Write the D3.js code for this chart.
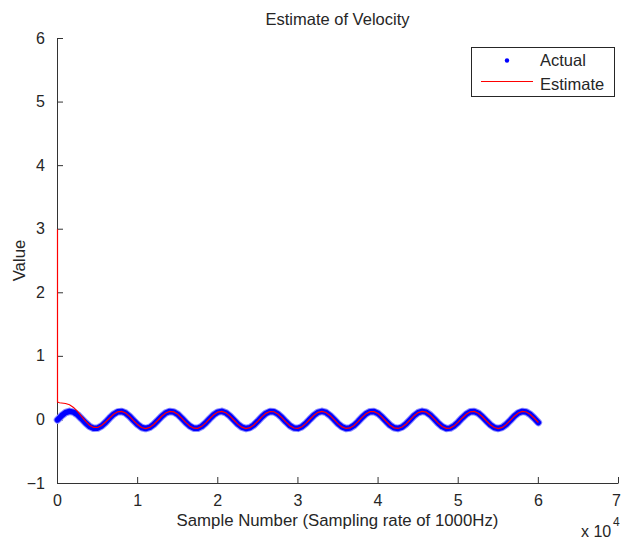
<!DOCTYPE html>
<html>
<head>
<meta charset="utf-8">
<script src="https://cdn.jsdelivr.net/npm/d3@7/dist/d3.min.js"></script>
<style>
  html, body { margin: 0; padding: 0; background: #fff; }
  svg { display: block; }
  text { font-family: "Liberation Sans", Arial, Helvetica, sans-serif; fill: #262626; }
</style>
</head>
<body>
<svg id="chart" width="621" height="540"></svg>
<script>
// Measured velocity, one value every 500 samples (sample 0 .. 60000)
const actualStep = 500;
const actualValues = [
  0, 0.065, 0.114, 0.135, 0.123, 0.081, 0.019, -0.047, -0.102, -0.132,
  -0.129, -0.095, -0.038, 0.029, 0.089, 0.127, 0.134, 0.108, 0.056, -0.010,
  -0.073, -0.119, -0.135, -0.118, -0.072, -0.009, 0.057, 0.109, 0.134, 0.126,
  0.088, 0.028, -0.039, -0.096, -0.130, -0.132, -0.101, -0.046, 0.020, 0.082,
  0.123, 0.135, 0.113, 0.064, -0.001, -0.066, -0.114, -0.135, -0.122, -0.080,
  -0.018, 0.048, 0.103, 0.132, 0.129, 0.094, 0.037, -0.030, -0.090, -0.127,
  -0.133, -0.107, -0.055, 0.011, 0.074, 0.119, 0.135, 0.118, 0.071, 0.008,
  -0.058, -0.109, -0.134, -0.126, -0.087, -0.027, 0.040, 0.097, 0.130, 0.131,
  0.101, 0.045, -0.021, -0.083, -0.124, -0.134, -0.112, -0.063, 0.002, 0.067,
  0.115, 0.135, 0.122, 0.079, 0.017, -0.050, -0.104, -0.133, -0.129, -0.093,
  -0.035, 0.031, 0.090, 0.127, 0.133, 0.106, 0.053, -0.013, -0.075, -0.120,
  -0.135, -0.117, -0.070, -0.007, 0.059, 0.110, 0.134, 0.125, 0.086, 0.026,
  -0.041
];

// Estimator start-up transient (sample numbers and values); after sample
// 6000 the estimate sits on the measured curve
const estimateStartSamples = [0, 1, 250, 500, 750, 1000, 1500, 2000, 2500, 3000, 3500, 4000, 4500, 5000, 5500, 6000];
const estimateStartValues  = [3.0, 0.28, 0.270, 0.266, 0.262, 0.258, 0.238, 0.197, 0.134, 0.057, -0.020, -0.083, -0.118, -0.119, -0.088, -0.033];

const xTicks = [0, 10000, 20000, 30000, 40000, 50000, 60000, 70000];
const xTickLabels = ["0", "1", "2", "3", "4", "5", "6", "7"];
const yTicks = [-1, 0, 1, 2, 3, 4, 5, 6];
const legendLabels = ["Actual", "Estimate"];

const actual = actualValues.map((v, i) => ({ n: i * actualStep, v }));
const estimate = estimateStartSamples.map((n, i) => ({ n, v: estimateStartValues[i] }))
  .concat(actual.filter(d => d.n > 6000));

const svg = d3.select("#chart");
const W = 621, H = 540;
svg.append("rect").attr("width", W).attr("height", H).attr("fill", "#fff");

const x = d3.scaleLinear().domain([0, 70000]).range([57, 618]);
const y = d3.scaleLinear().domain([-1, 6]).range([483, 38]);
const axisColor = "#333";
const fontSize = 16;

// x axis (ticks point inward)
const gx = svg.append("g").attr("transform", `translate(0,${y(-1)})`)
  .call(d3.axisBottom(x).tickValues(xTicks).tickSizeInner(-6).tickSizeOuter(0)
    .tickPadding(12).tickFormat((d, i) => xTickLabels[i]));
gx.select(".domain").attr("stroke", axisColor);
gx.selectAll(".tick line").attr("stroke", axisColor);
gx.selectAll(".tick text").attr("font-size", fontSize).attr("font-family", null).attr("fill", "#262626");
// last label sits at the window edge; nudge it so it stays inside
gx.selectAll(".tick text").filter((d, i) => i === xTicks.length - 1).attr("dx", -2);

// y axis
const gy = svg.append("g").attr("transform", `translate(${x(0)},0)`)
  .call(d3.axisLeft(y).tickValues(yTicks).tickSizeInner(-6).tickSizeOuter(0)
    .tickPadding(12).tickFormat(d3.format("d")));
gy.select(".domain").attr("stroke", axisColor);
gy.selectAll(".tick line").attr("stroke", axisColor);
gy.selectAll(".tick text").attr("font-size", fontSize).attr("font-family", null).attr("fill", "#262626");

// series, shifted half a pixel to sit on the same pixel grid as the axes
const plot = svg.append("g").attr("transform", "translate(0.5,0.5)");
const line = d3.line().x(d => x(d.n)).y(d => y(d.v));
plot.append("path").datum(actual).attr("d", line)
  .attr("fill", "none").attr("stroke", "#8c8cff").attr("stroke-width", 7.5)
  .attr("stroke-linecap", "round").attr("stroke-linejoin", "round");
plot.append("path").datum(actual).attr("d", line)
  .attr("fill", "none").attr("stroke", "#0000ff").attr("stroke-width", 5.5)
  .attr("stroke-linecap", "round").attr("stroke-linejoin", "round");
plot.append("path").datum(estimate).attr("d", line)
  .attr("fill", "none").attr("stroke", "#ff0000").attr("stroke-width", 1.2);

// title and axis labels
svg.append("text").attr("x", (x(0) + x(70000)) / 2).attr("y", 25)
  .attr("text-anchor", "middle").attr("font-size", 16.5).text("Estimate of Velocity");
svg.append("text").attr("x", (x(0) + x(70000)) / 2).attr("y", 526)
  .attr("text-anchor", "middle").attr("font-size", 16.8).text("Sample Number (Sampling rate of 1000Hz)");
svg.append("text").attr("transform", `translate(25,${(y(-1) + y(6)) / 2}) rotate(-90)`)
  .attr("text-anchor", "middle").attr("font-size", 16.8).text("Value");

// exponent label
svg.append("text").attr("x", 581).attr("y", 537).attr("font-size", fontSize).text("x 10");
svg.append("text").attr("x", 613).attr("y", 526).attr("font-size", 12).text("4");

// legend
const lg = svg.append("g");
lg.append("rect").attr("x", 471.5).attr("y", 47.5).attr("width", 143).attr("height", 49)
  .attr("fill", "#fff").attr("stroke", "#262626").attr("stroke-width", 1);
lg.append("circle").attr("cx", 507).attr("cy", 60.5).attr("r", 2.2).attr("fill", "#0000ff");
lg.append("line").attr("x1", 481).attr("x2", 533).attr("y1", 81.5).attr("y2", 81.5)
  .attr("stroke", "#ff0000").attr("stroke-width", 1.2);
lg.selectAll("text.lab").data(legendLabels).join("text").attr("class", "lab")
  .attr("x", 540).attr("y", (d, i) => 66 + i * 24).attr("font-size", 16.5).text(d => d);
</script>
</body>
</html>
